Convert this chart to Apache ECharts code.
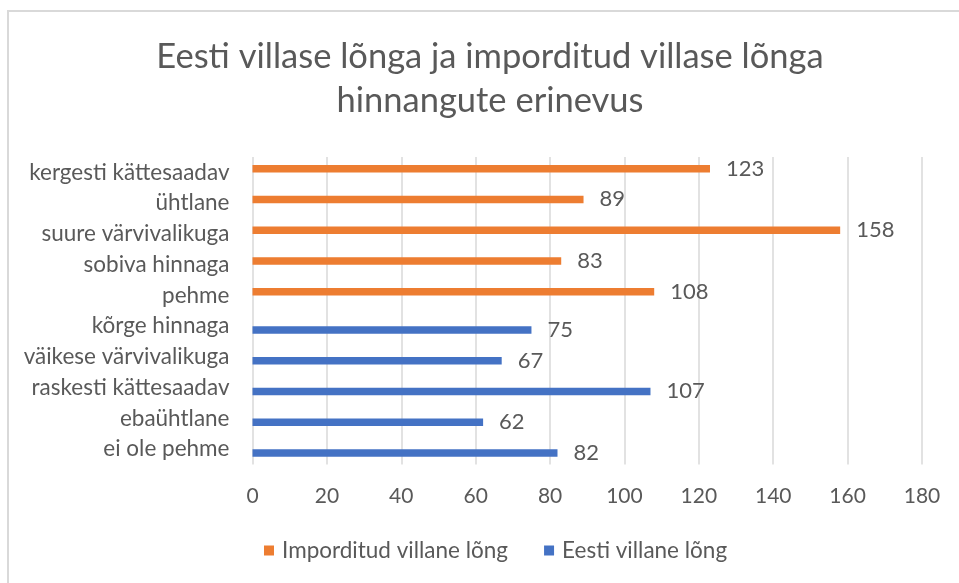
<!DOCTYPE html>
<html>
<head>
<meta charset="utf-8">
<script src="https://cdn.jsdelivr.net/npm/echarts@6/dist/echarts.min.js"></script>
<style>
html,body{margin:0;padding:0;background:#fff;}
#chart{width:959px;height:583px;}
</style>
</head>
<body>
<div id="chart"></div>
<script>
const categories = ["kergesti kättesaadav","ühtlane","suure värvivalikuga","sobiva hinnaga","pehme","kõrge hinnaga","väikese värvivalikuga","raskesti kättesaadav","ebaühtlane","ei ole pehme"];
const importValues = [123, 89, 158, 83, 108, '-', '-', '-', '-', '-'];
const eestiValues = ['-', '-', '-', '-', '-', 75, 67, 107, 62, 82];
const seriesNames = ["Imporditud villane lõng", "Eesti villane lõng"];
const titleText = "Eesti villase lõnga ja imporditud villase lõnga\nhinnangute erinevus";

const FONT = "Lato";
const TXT = "#595959";
const chart = echarts.init(document.getElementById('chart'), null, {renderer:'canvas'});
chart.setOption({
  animation:false,
  backgroundColor:'#fff',
  graphic:[{type:'rect', shape:{x:8, y:11, width:1000, height:700}, style:{fill:'none', stroke:'#d9d9d9', lineWidth:2}, z:-1}],
  title:{text:titleText, left:485, textAlign:'center', top:30, textStyle:{fontFamily:FONT, fontSize:34.5, fontWeight:'normal', color:TXT, lineHeight:44}},
  legend:{left:259, top:534, itemWidth:10, itemHeight:10, itemGap:36, icon:'rect',
    textStyle:{fontFamily:FONT, fontSize:22.5, color:TXT, padding:[0,0,0,3]}, data:seriesNames},
  grid:{left:252.5, right:37, top:157, bottom:118.5, containLabel:false},
  xAxis:{type:'value', min:0, max:180, interval:20,
    axisLine:{show:false}, axisTick:{show:false},
    splitLine:{show:true, lineStyle:{color:'#d9d9d9', width:1.5}},
    axisLabel:{fontFamily:FONT, fontSize:21, color:TXT, margin:21}},
  yAxis:{type:'category', data:categories, inverse:true,
    axisLine:{show:false}, axisTick:{show:false},
    axisLabel:{fontFamily:FONT, fontSize:22.5, color:TXT, margin:23}},
  series:[
    {name:seriesNames[0], type:'bar', data:importValues, barWidth:7.5, barGap:'0%', itemStyle:{color:'#ED7D31'},
     label:{show:true, position:'right', distance:16, fontFamily:FONT, fontSize:22, color:TXT}},
    {name:seriesNames[1], type:'bar', data:eestiValues, barWidth:7.5, barGap:'0%', itemStyle:{color:'#4472C4'},
     label:{show:true, position:'right', distance:16, fontFamily:FONT, fontSize:22, color:TXT}}
  ]
});
</script>
</body>
</html>
